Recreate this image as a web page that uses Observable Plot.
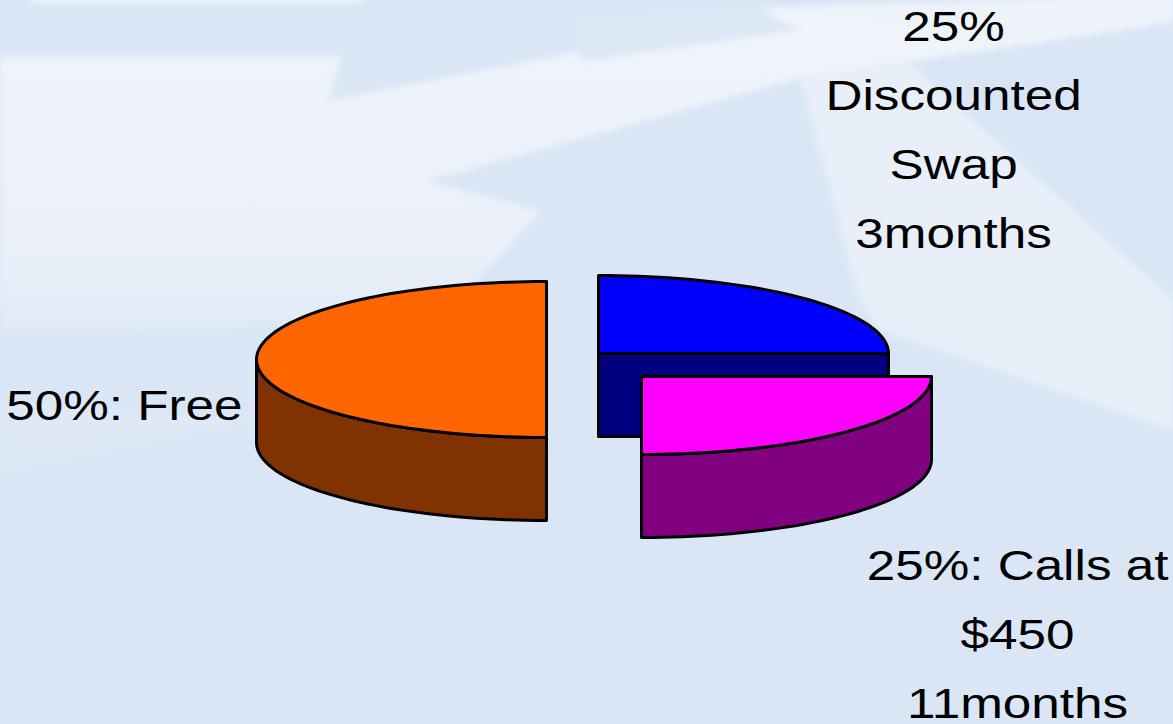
<!DOCTYPE html>
<html>
<head>
<meta charset="utf-8">
<script src="https://cdn.jsdelivr.net/npm/d3@7"></script>
<script src="https://cdn.jsdelivr.net/npm/@observablehq/plot@0.6"></script>
<style>
  html, body { margin: 0; padding: 0; width: 1173px; height: 724px; overflow: hidden; background: #dae6f5; }
  #wrap { position: relative; width: 1173px; height: 724px; }
  #bg { position: absolute; left: 0; top: 0; }
  #chart { position: absolute; left: 0; top: 0; }
</style>
</head>
<body>
<div id="wrap">
  <svg id="bg" width="1173" height="724" viewBox="0 0 1173 724">
    <defs>
      <filter id="soft" x="-5%" y="-5%" width="110%" height="110%"><feGaussianBlur stdDeviation="3"/></filter>
      <linearGradient id="fade" x1="0" y1="0" x2="0" y2="1">
        <stop offset="0" stop-color="#f1f5fb"/>
        <stop offset="0.75" stop-color="#eaf0f9"/>
        <stop offset="1" stop-color="#dfe9f6"/>
      </linearGradient>
    </defs>
    <rect width="1173" height="724" fill="#dae6f5"/>
    <g filter="url(#soft)">
      <polygon points="0,57 342,57 328,101 640,40 760,8 1173,-5 1173,22 800,78 427,181 541,211 440,320 0,335" fill="url(#fade)"/>
      <polygon points="30,-5 365,-5 365,3 30,3" fill="#eef3fa"/>
      <polygon points="760,8 1173,-5 1173,22 1010,40" fill="#eef3fa"/>
      <polygon points="800,78 905,60 1173,300 1173,430 880,330 860,300" fill="#e8eff9"/>
      <polygon points="935,62 1173,40 1173,290" fill="#d9e5f5"/>
      <polygon points="580,20 760,8 800,30 580,62" fill="#dde8f6"/>
      <polygon points="0,470 250,420 0,400" fill="#dfe9f6"/>
    </g>
  </svg>
  <div id="chart"></div>
</div>
<script>
// ---- data ----
const categories = ["50%: Free", "25%\nDiscounted\nSwap\n3months", "25%: Calls at\n$450\n11months"];
const shares = [50, 25, 25];

// ---- styles ----
const topColors = ["#FF6600", "#0000FF", "#FF00FF"];
const sideColors = ["#803300", "#000080", "#800080"];

// ---- layout (px, converted to data units below) ----
const W = 1173, H = 724;
const pxPerUnit = 290;           // pie radius in px
const originPx = [546, 359];     // centre of the un-exploded pie
const tilt = 78 / 290;           // vertical squash of the top ellipse
const depth = 83 / 290;          // thickness of the pie
const startAngle = Math.PI / 2;  // first slice starts at the front
const explodePx = [[0, 0], [52, -6], [95, 17]];
const labelOffsetPx = [[-14, 38], [150, -176], [171, 195]];
const labelAnchor = ["end", "middle", "middle"];
const textStretch = 1.22;

const total = d3.sum(shares);
const N = 90;

function rim(c, t, z = 0) { return {x: c[0] + Math.cos(t), y: c[1] + tilt * Math.sin(t) + z}; }
function arc(c, t0, t1, z = 0) {
  const pts = [];
  const n = Math.max(2, Math.ceil(N * Math.abs(t1 - t0) / Math.PI));
  for (let i = 0; i <= n; i++) pts.push(rim(c, t0 + (t1 - t0) * i / n, z));
  return pts;
}

let acc = startAngle;
const slices = shares.map((v, i) => {
  const t0 = acc, t1 = acc + 2 * Math.PI * v / total;
  acc = t1;
  const c = [explodePx[i][0] / pxPerUnit, explodePx[i][1] / pxPerUnit];
  return {i, label: categories[i], value: v, t0, t1, mid: (t0 + t1) / 2, c};
});

function slicePolys(s) {
  const polys = [];
  const {c, t0, t1} = s;
  const cen = {x: c[0], y: c[1]}, cenB = {x: c[0], y: c[1] + depth};
  if (Math.cos(t0) < -1e-6) {
    polys.push({pts: [cen, rim(c, t0), rim(c, t0, depth), cenB], fill: sideColors[s.i]});
  }
  if (Math.cos(t1) > 1e-6) {
    polys.push({pts: [cen, rim(c, t1), rim(c, t1, depth), cenB], fill: sideColors[s.i]});
  }
  for (let k = -1; k <= 2; k++) {
    const lo = Math.max(t0, 2 * Math.PI * k), hi = Math.min(t1, 2 * Math.PI * k + Math.PI);
    if (hi - lo > 1e-6) {
      polys.push({pts: arc(c, lo, hi).concat(arc(c, lo, hi, depth).reverse()), fill: sideColors[s.i]});
    }
  }
  polys.push({pts: [cen].concat(arc(c, t0, t1)), fill: topColors[s.i]});
  return polys;
}

const order = slices.slice().sort((a, b) => Math.sin(a.mid) - Math.sin(b.mid));
const marks = [];
for (const s of order) {
  for (const p of slicePolys(s)) {
    marks.push(Plot.line(p.pts, {x: "x", y: "y", curve: "linear-closed", fill: p.fill, stroke: "black", strokeWidth: 3, strokeLinejoin: "round"}));
  }
}

const labels = slices.map(s => {
  const r = rim(s.c, s.mid);
  return {text: s.label, x: r.x + labelOffsetPx[s.i][0] / pxPerUnit, y: r.y + labelOffsetPx[s.i][1] / pxPerUnit, anchor: labelAnchor[s.i]};
});
for (const anchor of ["end", "middle"]) {
  marks.push(Plot.text(labels.filter(d => d.anchor === anchor), {
    x: "x", y: "y", text: "text", textAnchor: anchor, lineAnchor: "middle", lineHeight: 1.65,
    fontSize: 42, fill: "black"
  }));
}

const chart = Plot.plot({
  width: W, height: H,
  margin: 0,
  x: {domain: [-originPx[0] / pxPerUnit, (W - originPx[0]) / pxPerUnit], axis: null},
  y: {domain: [-originPx[1] / pxPerUnit, (H - originPx[1]) / pxPerUnit], reverse: true, axis: null},
  style: {background: "transparent", fontFamily: "'Liberation Sans', Arial, sans-serif", overflow: "visible"},
  marks
});
// stretch label glyphs horizontally about their anchor, like the reference's wide lettering
chart.querySelectorAll("g[aria-label='text'] text").forEach(t => {
  t.setAttribute("transform", (t.getAttribute("transform") || "") + ` scale(${textStretch},1)`);
});
document.getElementById("chart").appendChild(chart);
</script>
</body>
</html>
